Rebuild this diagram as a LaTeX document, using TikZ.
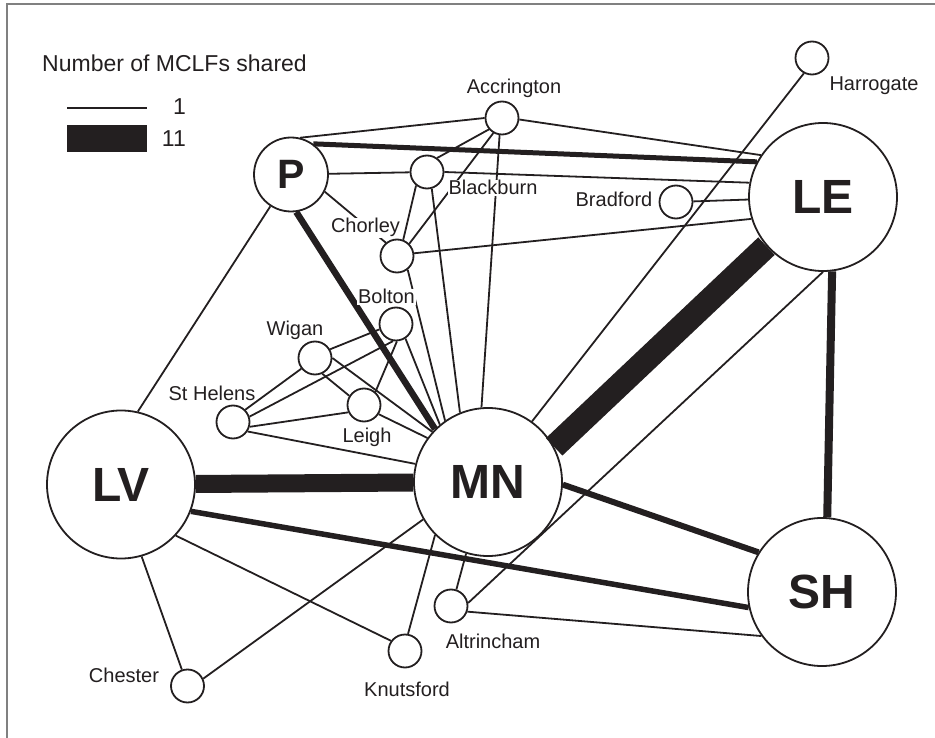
\documentclass[tikz,border=0pt]{standalone}
\usepackage{fontspec}
\setmainfont{Liberation Sans}
\definecolor{ink}{RGB}{35,31,32}
\definecolor{framegray}{RGB}{128,128,128}

\tikzset{
  hub/.style={circle, draw=ink, line width=1.8pt, fill=white, minimum size=148pt,
    inner sep=0pt, text=ink, font=\fontsize{48}{48}\selectfont\bfseries},
  town/.style={circle, draw=ink, line width=1.8pt, fill=white, minimum size=33pt, inner sep=0pt},
  townname/.style={fill=white, inner sep=1pt, anchor=base, text=ink, font=\fontsize{20}{22}\selectfont},
  keytext/.style={text=ink, inner sep=0pt, font=\fontsize{23}{25}\selectfont},
  link/.style={draw=ink, line width=#1},
  link/.default=1.8pt,
}

\begin{document}
\begin{tikzpicture}[x=1pt, y=-1pt]
\useasboundingbox (0,0) rectangle (935,738);
\draw[framegray, line width=1.5pt] (7,738) -- (7,4) -- (935,4);

% key
\node[keytext, anchor=base west] (keytitle) at (42,72) {Number of MCLFs shared};
\coordinate (keyA) at (67,108);
\coordinate (keyB) at (147,108);
\draw[link] (keyA) -- (keyB);
\fill[ink] (67,125) rectangle (147,152);
\node[keytext, anchor=base east] (keyone) at (186,115) {1};
\node[keytext, anchor=base east] (keyeleven) at (186,147) {11};

% hubs
\node[hub] (LV) at (121,484.5) {LV};
\node[hub] (MN) at (488,482) {MN};
\node[hub] (LE) at (823,197) {LE};
\node[hub] (SH) at (822,592) {SH};
\node[hub, minimum size=74pt, font=\fontsize{41}{41}\selectfont\bfseries] (P) at (291,174.5) {P};

% towns
\node[town] (Accrington) at (502,118) {};
\node[town] (Blackburn) at (427,172) {};
\node[town] (Chorley) at (397,256) {};
\node[town] (Bradford) at (676,202) {};
\node[town] (Harrogate) at (812,58) {};
\node[town] (Bolton) at (396,324) {};
\node[town] (Wigan) at (315,358) {};
\node[town] (Leigh) at (364,405) {};
\node[town] (StHelens) at (233,422) {};
\node[town] (Altrincham) at (451,606) {};
\node[town] (Knutsford) at (405,651) {};
\node[town] (Chester) at (187.5,686) {};

% one shared MCLF
\foreach \a/\b in {Accrington.180/P.76, Accrington.-5/LE.146, Accrington.221/Blackburn.54,
    Accrington.240/Chorley.45, Accrington.262/MN.95, P/Blackburn, Blackburn.0/LE.169,
    Blackburn.231/Chorley.69, Blackburn.286/MN.112, P.-27/Chorley.130, Chorley.9/LE.197,
    Chorley.308/MN.125, Bradford/LE, Harrogate.242/MN.54, LV.77/P.237,
    Wigan.30/Bolton.198, StHelens.18/Bolton.260, Bolton.273/Leigh.49, Bolton.303/MN.130,
    StHelens.45/Wigan.218, Wigan.295/Leigh.148, Wigan.0/MN.138, StHelens.-16/Leigh.205,
    Leigh.328/MN.144, StHelens.327/MN.166, LV.-43/Knutsford.144, LV.-74/Chester.109,
    MN.210/Chester.25, MN.225/Knutsford.80, MN.253/Altrincham.72, LE.270/Altrincham.10,
    Altrincham.-19/SH.216}
  \draw[link] (\a) -- (\b);

% several shared MCLFs
\foreach \a/\b/\w in {P.54/LE.152/5pt, P.-82/MN.135/6.5pt, LV/MN/18pt, MN.28/LE.221/24pt,
    LV.-21/SH.192/5.5pt, MN.-2/SH.148/6pt, LE.277/SH.86/8pt}
  \draw[link=\w] (\a) -- (\b);

% town names
\node[townname] (AccringtonName) at (514,94) {Accrington};
\node[townname] (BlackburnName) at (493,195) {Blackburn};
\node[townname] (ChorleyName) at (365.5,233) {Chorley};
\node[townname] (BradfordName) at (614,207) {Bradford};
\node[townname] (HarrogateName) at (874,91) {Harrogate};
\node[townname] (BoltonName) at (386.5,304) {Bolton};
\node[townname] (WiganName) at (295,335) {Wigan};
\node[townname] (StHelensName) at (212,400) {St Helens};
\node[townname] (LeighName) at (367,442) {Leigh};
\node[townname] (AltrinchamName) at (493,648) {Altrincham};
\node[townname] (KnutsfordName) at (407,696) {Knutsford};
\node[townname] (ChesterName) at (124,682) {Chester};
\end{tikzpicture}
\end{document}
